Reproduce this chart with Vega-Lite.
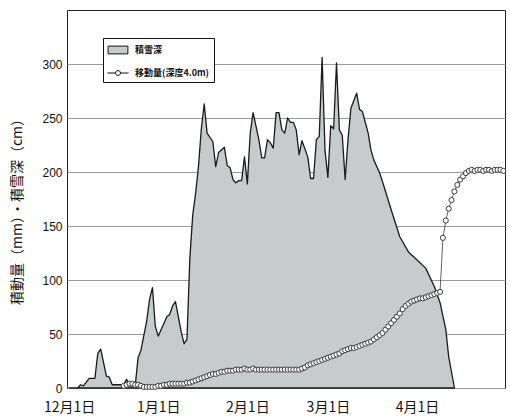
{
  "$schema": "https://vega.github.io/schema/vega-lite/v6.json",
  "width": 438,
  "height": 378,
  "autosize": {"type": "none"},
  "padding": {"left": 67, "top": 10, "right": 5, "bottom": 30},
  "background": "white",
  "config": {
    "view": {"stroke": "#222", "strokeWidth": 1},
    "axis": {"labelColor": "#111", "titleColor": "#111"}
  },
  "datasets": {
    "snow": [
      {"date": "2000-12-01", "depth": 0, "series": "積雪深"},
      {"date": "2000-12-04", "depth": 0, "series": "積雪深"},
      {"date": "2000-12-05", "depth": 3, "series": "積雪深"},
      {"date": "2000-12-06", "depth": 2, "series": "積雪深"},
      {"date": "2000-12-08", "depth": 9, "series": "積雪深"},
      {"date": "2000-12-10", "depth": 9, "series": "積雪深"},
      {"date": "2000-12-11", "depth": 32, "series": "積雪深"},
      {"date": "2000-12-12", "depth": 36, "series": "積雪深"},
      {"date": "2000-12-14", "depth": 11, "series": "積雪深"},
      {"date": "2000-12-15", "depth": 10, "series": "積雪深"},
      {"date": "2000-12-16", "depth": 3, "series": "積雪深"},
      {"date": "2000-12-20", "depth": 3, "series": "積雪深"},
      {"date": "2000-12-21", "depth": 8, "series": "積雪深"},
      {"date": "2000-12-22", "depth": 2, "series": "積雪深"},
      {"date": "2000-12-24", "depth": 2, "series": "積雪深"},
      {"date": "2000-12-25", "depth": 28, "series": "積雪深"},
      {"date": "2000-12-26", "depth": 35, "series": "積雪深"},
      {"date": "2000-12-28", "depth": 62, "series": "積雪深"},
      {"date": "2000-12-29", "depth": 82, "series": "積雪深"},
      {"date": "2000-12-30", "depth": 93, "series": "積雪深"},
      {"date": "2000-12-31", "depth": 57, "series": "積雪深"},
      {"date": "2001-01-01", "depth": 48, "series": "積雪深"},
      {"date": "2001-01-03", "depth": 60, "series": "積雪深"},
      {"date": "2001-01-04", "depth": 66, "series": "積雪深"},
      {"date": "2001-01-05", "depth": 68, "series": "積雪深"},
      {"date": "2001-01-06", "depth": 76, "series": "積雪深"},
      {"date": "2001-01-07", "depth": 80, "series": "積雪深"},
      {"date": "2001-01-08", "depth": 66, "series": "積雪深"},
      {"date": "2001-01-09", "depth": 52, "series": "積雪深"},
      {"date": "2001-01-10", "depth": 41, "series": "積雪深"},
      {"date": "2001-01-11", "depth": 45, "series": "積雪深"},
      {"date": "2001-01-12", "depth": 120, "series": "積雪深"},
      {"date": "2001-01-13", "depth": 160, "series": "積雪深"},
      {"date": "2001-01-14", "depth": 180, "series": "積雪深"},
      {"date": "2001-01-15", "depth": 205, "series": "積雪深"},
      {"date": "2001-01-16", "depth": 240, "series": "積雪深"},
      {"date": "2001-01-17", "depth": 263, "series": "積雪深"},
      {"date": "2001-01-18", "depth": 236, "series": "積雪深"},
      {"date": "2001-01-20", "depth": 228, "series": "積雪深"},
      {"date": "2001-01-21", "depth": 205, "series": "積雪深"},
      {"date": "2001-01-22", "depth": 218, "series": "積雪深"},
      {"date": "2001-01-24", "depth": 223, "series": "積雪深"},
      {"date": "2001-01-25", "depth": 206, "series": "積雪深"},
      {"date": "2001-01-26", "depth": 204, "series": "積雪深"},
      {"date": "2001-01-27", "depth": 193, "series": "積雪深"},
      {"date": "2001-01-28", "depth": 190, "series": "積雪深"},
      {"date": "2001-01-29", "depth": 192, "series": "積雪深"},
      {"date": "2001-01-30", "depth": 192, "series": "積雪深"},
      {"date": "2001-01-31", "depth": 214, "series": "積雪深"},
      {"date": "2001-02-01", "depth": 189, "series": "積雪深"},
      {"date": "2001-02-02", "depth": 236, "series": "積雪深"},
      {"date": "2001-02-03", "depth": 255, "series": "積雪深"},
      {"date": "2001-02-05", "depth": 230, "series": "積雪深"},
      {"date": "2001-02-06", "depth": 213, "series": "積雪深"},
      {"date": "2001-02-07", "depth": 213, "series": "積雪深"},
      {"date": "2001-02-08", "depth": 230, "series": "積雪深"},
      {"date": "2001-02-09", "depth": 227, "series": "積雪深"},
      {"date": "2001-02-10", "depth": 222, "series": "積雪深"},
      {"date": "2001-02-11", "depth": 255, "series": "積雪深"},
      {"date": "2001-02-12", "depth": 255, "series": "積雪深"},
      {"date": "2001-02-13", "depth": 239, "series": "積雪深"},
      {"date": "2001-02-14", "depth": 236, "series": "積雪深"},
      {"date": "2001-02-15", "depth": 250, "series": "積雪深"},
      {"date": "2001-02-16", "depth": 246, "series": "積雪深"},
      {"date": "2001-02-17", "depth": 246, "series": "積雪深"},
      {"date": "2001-02-18", "depth": 239, "series": "積雪深"},
      {"date": "2001-02-19", "depth": 216, "series": "積雪深"},
      {"date": "2001-02-20", "depth": 229, "series": "積雪深"},
      {"date": "2001-02-22", "depth": 214, "series": "積雪深"},
      {"date": "2001-02-23", "depth": 194, "series": "積雪深"},
      {"date": "2001-02-24", "depth": 194, "series": "積雪深"},
      {"date": "2001-02-25", "depth": 230, "series": "積雪深"},
      {"date": "2001-02-26", "depth": 233, "series": "積雪深"},
      {"date": "2001-02-27", "depth": 306, "series": "積雪深"},
      {"date": "2001-02-28", "depth": 220, "series": "積雪深"},
      {"date": "2001-03-01", "depth": 195, "series": "積雪深"},
      {"date": "2001-03-02", "depth": 243, "series": "積雪深"},
      {"date": "2001-03-03", "depth": 240, "series": "積雪深"},
      {"date": "2001-03-04", "depth": 301, "series": "積雪深"},
      {"date": "2001-03-05", "depth": 239, "series": "積雪深"},
      {"date": "2001-03-06", "depth": 234, "series": "積雪深"},
      {"date": "2001-03-07", "depth": 193, "series": "積雪深"},
      {"date": "2001-03-08", "depth": 230, "series": "積雪深"},
      {"date": "2001-03-09", "depth": 259, "series": "積雪深"},
      {"date": "2001-03-10", "depth": 266, "series": "積雪深"},
      {"date": "2001-03-11", "depth": 273, "series": "積雪深"},
      {"date": "2001-03-12", "depth": 258, "series": "積雪深"},
      {"date": "2001-03-13", "depth": 256, "series": "積雪深"},
      {"date": "2001-03-15", "depth": 236, "series": "積雪深"},
      {"date": "2001-03-16", "depth": 220, "series": "積雪深"},
      {"date": "2001-03-17", "depth": 211, "series": "積雪深"},
      {"date": "2001-03-19", "depth": 199, "series": "積雪深"},
      {"date": "2001-03-20", "depth": 191, "series": "積雪深"},
      {"date": "2001-03-23", "depth": 165, "series": "積雪深"},
      {"date": "2001-03-26", "depth": 140, "series": "積雪深"},
      {"date": "2001-03-29", "depth": 126, "series": "積雪深"},
      {"date": "2001-03-31", "depth": 121, "series": "積雪深"},
      {"date": "2001-04-04", "depth": 111, "series": "積雪深"},
      {"date": "2001-04-07", "depth": 94, "series": "積雪深"},
      {"date": "2001-04-09", "depth": 79, "series": "積雪深"},
      {"date": "2001-04-11", "depth": 54, "series": "積雪深"},
      {"date": "2001-04-12", "depth": 29, "series": "積雪深"},
      {"date": "2001-04-14", "depth": 0, "series": "積雪深"}
    ],
    "move": [
      {"date": "2000-12-20", "disp": 2, "series": "移動量(深度4.0m)"},
      {"date": "2000-12-21", "disp": 3, "series": "移動量(深度4.0m)"},
      {"date": "2000-12-22", "disp": 4, "series": "移動量(深度4.0m)"},
      {"date": "2000-12-23", "disp": 4, "series": "移動量(深度4.0m)"},
      {"date": "2000-12-24", "disp": 3, "series": "移動量(深度4.0m)"},
      {"date": "2000-12-25", "disp": 3, "series": "移動量(深度4.0m)"},
      {"date": "2000-12-26", "disp": 2, "series": "移動量(深度4.0m)"},
      {"date": "2000-12-27", "disp": 1, "series": "移動量(深度4.0m)"},
      {"date": "2000-12-28", "disp": 1, "series": "移動量(深度4.0m)"},
      {"date": "2000-12-29", "disp": 1, "series": "移動量(深度4.0m)"},
      {"date": "2000-12-30", "disp": 1, "series": "移動量(深度4.0m)"},
      {"date": "2000-12-31", "disp": 1, "series": "移動量(深度4.0m)"},
      {"date": "2001-01-01", "disp": 2, "series": "移動量(深度4.0m)"},
      {"date": "2001-01-02", "disp": 2, "series": "移動量(深度4.0m)"},
      {"date": "2001-01-03", "disp": 3, "series": "移動量(深度4.0m)"},
      {"date": "2001-01-04", "disp": 3, "series": "移動量(深度4.0m)"},
      {"date": "2001-01-05", "disp": 4, "series": "移動量(深度4.0m)"},
      {"date": "2001-01-06", "disp": 4, "series": "移動量(深度4.0m)"},
      {"date": "2001-01-07", "disp": 4, "series": "移動量(深度4.0m)"},
      {"date": "2001-01-08", "disp": 4, "series": "移動量(深度4.0m)"},
      {"date": "2001-01-09", "disp": 4, "series": "移動量(深度4.0m)"},
      {"date": "2001-01-10", "disp": 4, "series": "移動量(深度4.0m)"},
      {"date": "2001-01-11", "disp": 5, "series": "移動量(深度4.0m)"},
      {"date": "2001-01-12", "disp": 5, "series": "移動量(深度4.0m)"},
      {"date": "2001-01-13", "disp": 6, "series": "移動量(深度4.0m)"},
      {"date": "2001-01-14", "disp": 7, "series": "移動量(深度4.0m)"},
      {"date": "2001-01-15", "disp": 8, "series": "移動量(深度4.0m)"},
      {"date": "2001-01-16", "disp": 9, "series": "移動量(深度4.0m)"},
      {"date": "2001-01-17", "disp": 10, "series": "移動量(深度4.0m)"},
      {"date": "2001-01-18", "disp": 11, "series": "移動量(深度4.0m)"},
      {"date": "2001-01-19", "disp": 12, "series": "移動量(深度4.0m)"},
      {"date": "2001-01-20", "disp": 13, "series": "移動量(深度4.0m)"},
      {"date": "2001-01-21", "disp": 13, "series": "移動量(深度4.0m)"},
      {"date": "2001-01-22", "disp": 14, "series": "移動量(深度4.0m)"},
      {"date": "2001-01-23", "disp": 15, "series": "移動量(深度4.0m)"},
      {"date": "2001-01-24", "disp": 15, "series": "移動量(深度4.0m)"},
      {"date": "2001-01-25", "disp": 16, "series": "移動量(深度4.0m)"},
      {"date": "2001-01-26", "disp": 16, "series": "移動量(深度4.0m)"},
      {"date": "2001-01-27", "disp": 16, "series": "移動量(深度4.0m)"},
      {"date": "2001-01-28", "disp": 17, "series": "移動量(深度4.0m)"},
      {"date": "2001-01-29", "disp": 17, "series": "移動量(深度4.0m)"},
      {"date": "2001-01-30", "disp": 17, "series": "移動量(深度4.0m)"},
      {"date": "2001-01-31", "disp": 18, "series": "移動量(深度4.0m)"},
      {"date": "2001-02-01", "disp": 17, "series": "移動量(深度4.0m)"},
      {"date": "2001-02-02", "disp": 17, "series": "移動量(深度4.0m)"},
      {"date": "2001-02-03", "disp": 18, "series": "移動量(深度4.0m)"},
      {"date": "2001-02-04", "disp": 17, "series": "移動量(深度4.0m)"},
      {"date": "2001-02-05", "disp": 17, "series": "移動量(深度4.0m)"},
      {"date": "2001-02-06", "disp": 17, "series": "移動量(深度4.0m)"},
      {"date": "2001-02-07", "disp": 17, "series": "移動量(深度4.0m)"},
      {"date": "2001-02-08", "disp": 17, "series": "移動量(深度4.0m)"},
      {"date": "2001-02-09", "disp": 17, "series": "移動量(深度4.0m)"},
      {"date": "2001-02-10", "disp": 17, "series": "移動量(深度4.0m)"},
      {"date": "2001-02-11", "disp": 17, "series": "移動量(深度4.0m)"},
      {"date": "2001-02-12", "disp": 17, "series": "移動量(深度4.0m)"},
      {"date": "2001-02-13", "disp": 17, "series": "移動量(深度4.0m)"},
      {"date": "2001-02-14", "disp": 17, "series": "移動量(深度4.0m)"},
      {"date": "2001-02-15", "disp": 17, "series": "移動量(深度4.0m)"},
      {"date": "2001-02-16", "disp": 17, "series": "移動量(深度4.0m)"},
      {"date": "2001-02-17", "disp": 17, "series": "移動量(深度4.0m)"},
      {"date": "2001-02-18", "disp": 17, "series": "移動量(深度4.0m)"},
      {"date": "2001-02-19", "disp": 17, "series": "移動量(深度4.0m)"},
      {"date": "2001-02-20", "disp": 18, "series": "移動量(深度4.0m)"},
      {"date": "2001-02-21", "disp": 19, "series": "移動量(深度4.0m)"},
      {"date": "2001-02-22", "disp": 21, "series": "移動量(深度4.0m)"},
      {"date": "2001-02-23", "disp": 22, "series": "移動量(深度4.0m)"},
      {"date": "2001-02-24", "disp": 23, "series": "移動量(深度4.0m)"},
      {"date": "2001-02-25", "disp": 24, "series": "移動量(深度4.0m)"},
      {"date": "2001-02-26", "disp": 25, "series": "移動量(深度4.0m)"},
      {"date": "2001-02-27", "disp": 26, "series": "移動量(深度4.0m)"},
      {"date": "2001-02-28", "disp": 27, "series": "移動量(深度4.0m)"},
      {"date": "2001-03-01", "disp": 28, "series": "移動量(深度4.0m)"},
      {"date": "2001-03-02", "disp": 29, "series": "移動量(深度4.0m)"},
      {"date": "2001-03-03", "disp": 30, "series": "移動量(深度4.0m)"},
      {"date": "2001-03-04", "disp": 31, "series": "移動量(深度4.0m)"},
      {"date": "2001-03-05", "disp": 32, "series": "移動量(深度4.0m)"},
      {"date": "2001-03-06", "disp": 34, "series": "移動量(深度4.0m)"},
      {"date": "2001-03-07", "disp": 35, "series": "移動量(深度4.0m)"},
      {"date": "2001-03-08", "disp": 36, "series": "移動量(深度4.0m)"},
      {"date": "2001-03-09", "disp": 37, "series": "移動量(深度4.0m)"},
      {"date": "2001-03-10", "disp": 37, "series": "移動量(深度4.0m)"},
      {"date": "2001-03-11", "disp": 38, "series": "移動量(深度4.0m)"},
      {"date": "2001-03-12", "disp": 39, "series": "移動量(深度4.0m)"},
      {"date": "2001-03-13", "disp": 40, "series": "移動量(深度4.0m)"},
      {"date": "2001-03-14", "disp": 41, "series": "移動量(深度4.0m)"},
      {"date": "2001-03-15", "disp": 42, "series": "移動量(深度4.0m)"},
      {"date": "2001-03-16", "disp": 43, "series": "移動量(深度4.0m)"},
      {"date": "2001-03-17", "disp": 45, "series": "移動量(深度4.0m)"},
      {"date": "2001-03-18", "disp": 47, "series": "移動量(深度4.0m)"},
      {"date": "2001-03-19", "disp": 49, "series": "移動量(深度4.0m)"},
      {"date": "2001-03-20", "disp": 51, "series": "移動量(深度4.0m)"},
      {"date": "2001-03-21", "disp": 54, "series": "移動量(深度4.0m)"},
      {"date": "2001-03-22", "disp": 57, "series": "移動量(深度4.0m)"},
      {"date": "2001-03-23", "disp": 60, "series": "移動量(深度4.0m)"},
      {"date": "2001-03-24", "disp": 63, "series": "移動量(深度4.0m)"},
      {"date": "2001-03-25", "disp": 66, "series": "移動量(深度4.0m)"},
      {"date": "2001-03-26", "disp": 69, "series": "移動量(深度4.0m)"},
      {"date": "2001-03-27", "disp": 73, "series": "移動量(深度4.0m)"},
      {"date": "2001-03-28", "disp": 76, "series": "移動量(深度4.0m)"},
      {"date": "2001-03-29", "disp": 78, "series": "移動量(深度4.0m)"},
      {"date": "2001-03-30", "disp": 80, "series": "移動量(深度4.0m)"},
      {"date": "2001-03-31", "disp": 81, "series": "移動量(深度4.0m)"},
      {"date": "2001-04-01", "disp": 82, "series": "移動量(深度4.0m)"},
      {"date": "2001-04-02", "disp": 83, "series": "移動量(深度4.0m)"},
      {"date": "2001-04-03", "disp": 83, "series": "移動量(深度4.0m)"},
      {"date": "2001-04-04", "disp": 84, "series": "移動量(深度4.0m)"},
      {"date": "2001-04-05", "disp": 85, "series": "移動量(深度4.0m)"},
      {"date": "2001-04-06", "disp": 86, "series": "移動量(深度4.0m)"},
      {"date": "2001-04-07", "disp": 87, "series": "移動量(深度4.0m)"},
      {"date": "2001-04-08", "disp": 88, "series": "移動量(深度4.0m)"},
      {"date": "2001-04-09", "disp": 89, "series": "移動量(深度4.0m)"},
      {"date": "2001-04-10", "disp": 139, "series": "移動量(深度4.0m)"},
      {"date": "2001-04-11", "disp": 155, "series": "移動量(深度4.0m)"},
      {"date": "2001-04-12", "disp": 166, "series": "移動量(深度4.0m)"},
      {"date": "2001-04-13", "disp": 174, "series": "移動量(深度4.0m)"},
      {"date": "2001-04-14", "disp": 182, "series": "移動量(深度4.0m)"},
      {"date": "2001-04-15", "disp": 188, "series": "移動量(深度4.0m)"},
      {"date": "2001-04-16", "disp": 193, "series": "移動量(深度4.0m)"},
      {"date": "2001-04-17", "disp": 196, "series": "移動量(深度4.0m)"},
      {"date": "2001-04-18", "disp": 199, "series": "移動量(深度4.0m)"},
      {"date": "2001-04-19", "disp": 201, "series": "移動量(深度4.0m)"},
      {"date": "2001-04-20", "disp": 202, "series": "移動量(深度4.0m)"},
      {"date": "2001-04-21", "disp": 201, "series": "移動量(深度4.0m)"},
      {"date": "2001-04-22", "disp": 202, "series": "移動量(深度4.0m)"},
      {"date": "2001-04-23", "disp": 202, "series": "移動量(深度4.0m)"},
      {"date": "2001-04-24", "disp": 201, "series": "移動量(深度4.0m)"},
      {"date": "2001-04-25", "disp": 202, "series": "移動量(深度4.0m)"},
      {"date": "2001-04-26", "disp": 202, "series": "移動量(深度4.0m)"},
      {"date": "2001-04-27", "disp": 201, "series": "移動量(深度4.0m)"},
      {"date": "2001-04-28", "disp": 202, "series": "移動量(深度4.0m)"},
      {"date": "2001-04-29", "disp": 202, "series": "移動量(深度4.0m)"},
      {"date": "2001-04-30", "disp": 202, "series": "移動量(深度4.0m)"},
      {"date": "2001-05-01", "disp": 201, "series": "移動量(深度4.0m)"}
    ]
  },
  "layer": [
    {
      "data": {"name": "snow"},
      "mark": {"type": "area", "stroke": "#1a1a1a", "strokeWidth": 1.3, "strokeJoin": "round"},
      "encoding": {
        "x": {
          "field": "date",
          "type": "temporal",
          "scale": {
            "type": "utc",
            "domain": [
              {"year": 2000, "month": 11, "date": 30, "hours": 7, "utc": true},
              {"year": 2001, "month": 5, "date": 1, "hours": 14, "utc": true}
            ]
          },
          "axis": {
            "values": [
              {"year": 2000, "month": 12, "date": 1, "utc": true},
              {"year": 2001, "month": 1, "date": 1, "utc": true},
              {"year": 2001, "month": 2, "date": 1, "utc": true},
              {"year": 2001, "month": 3, "date": 1, "utc": true},
              {"year": 2001, "month": 4, "date": 1, "utc": true}
            ],
            "format": "%-m月%-d日",
            "title": null,
            "grid": false,
            "ticks": false,
            "domain": false,
            "labelFont": "Noto Sans CJK JP",
            "labelFontSize": 14,
            "labelPadding": 12,
            "labelOverlap": false
          }
        },
        "y": {
          "field": "depth",
          "type": "quantitative",
          "scale": {"domain": [0, 350], "nice": false},
          "axis": {
            "values": [0, 50, 100, 150, 200, 250, 300],
            "grid": true,
            "gridColor": "#9a9a9a",
            "gridWidth": 1,
            "ticks": false,
            "domain": false,
            "labelFont": "Liberation Sans",
            "labelFontSize": 12,
            "labelPadding": 5,
            "title": "積動量（mm）・積雪深（cm）",
            "titleFont": "Noto Sans CJK JP",
            "titleFontSize": 14,
            "titleFontWeight": "normal",
            "titleX": -50,
            "titleY": 198,
            "titleAlign": "center",
            "titleBaseline": "middle"
          }
        },
        "fill": {
          "field": "series",
          "type": "nominal",
          "scale": {"domain": ["積雪深", "移動量(深度4.0m)"], "range": ["#c8cbcb", "white"]},
          "legend": {
            "title": null,
            "orient": "none",
            "legendX": 36,
            "legendY": 28,
            "padding": 4,
            "fillColor": "white",
            "strokeColor": "#111",
            "symbolSize": 200,
            "symbolOffset": 3,
            "symbolStrokeColor": "#111",
            "symbolStrokeWidth": 1,
            "labelOffset": 9,
            "rowPadding": 9,
            "labelFont": "Noto Sans CJK JP",
            "labelFontSize": 9,
            "labelFontWeight": "bold",
            "labelColor": "#111",
            "encode": {
              "symbols": {
                "update": {
                  "shape": {"signal": "datum.value === '積雪深' ? 'M-1.4,-0.55H1.4V0.55H-1.4Z' : 'M-1.5,0H-0.35M0.35,0H1.5M-0.35,0A0.35,0.35 0 1,0 0.35,0A0.35,0.35 0 1,0 -0.35,0'"},
                  "stroke": {"value": "#111"},
                  "strokeWidth": {"value": 1}
                }
              }
            }
          }
        }
      }
    },
    {
      "data": {"name": "move"},
      "mark": {"type": "line", "color": "#3a3a3a", "strokeWidth": 0.8},
      "encoding": {
        "x": {"field": "date", "type": "temporal"},
        "y": {"field": "disp", "type": "quantitative"}
      }
    },
    {
      "data": {"name": "move"},
      "mark": {"type": "point", "shape": "circle", "size": 26, "filled": true, "stroke": "#3a3a3a", "strokeWidth": 1, "opacity": 1},
      "encoding": {
        "x": {"field": "date", "type": "temporal"},
        "y": {"field": "disp", "type": "quantitative"},
        "fill": {"field": "series", "type": "nominal"}
      }
    }
  ]
}
